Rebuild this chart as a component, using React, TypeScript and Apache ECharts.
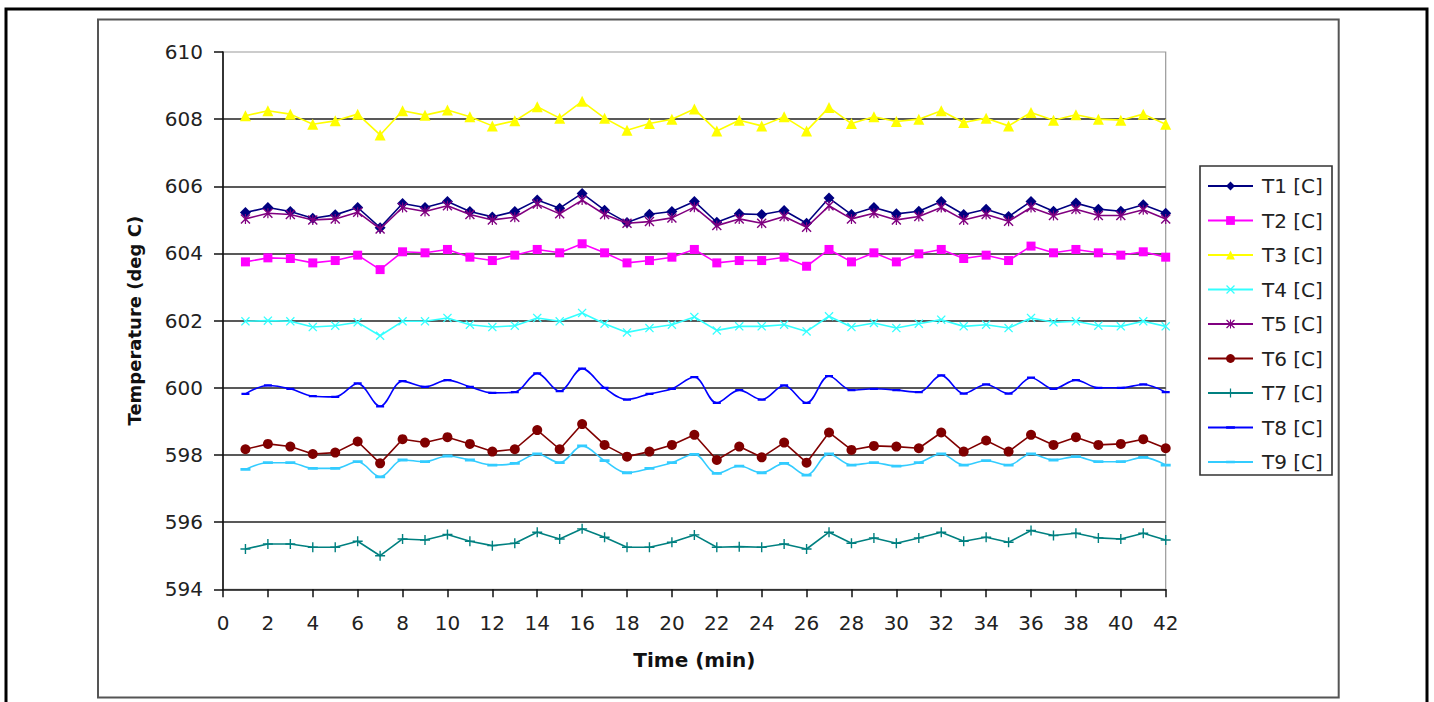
import React, { useEffect, useRef } from "react";
import * as echarts from "echarts";

const time = [1,2,3,4,5,6,7,8,9,10,11,12,13,14,15,16,17,18,19,20,21,22,23,24,25,26,27,28,29,30,31,32,33,34,35,36,37,38,39,40,41,42];

const t1 = [605.22,605.37,605.25,605.05,605.15,605.37,604.77,605.49,605.37,605.55,605.25,605.09,605.25,605.59,605.35,605.79,605.29,604.92,605.17,605.25,605.55,604.93,605.18,605.16,605.28,604.9,605.65,605.16,605.37,605.18,605.26,605.55,605.16,605.32,605.1,605.55,605.26,605.5,605.32,605.26,605.45,605.2];
const t2 = [603.75,603.87,603.85,603.72,603.79,603.95,603.52,604.05,604.02,604.12,603.89,603.79,603.95,604.12,604.02,604.29,604.02,603.72,603.79,603.89,604.12,603.72,603.79,603.79,603.89,603.62,604.12,603.75,604.02,603.75,603.99,604.12,603.85,603.95,603.79,604.22,604.02,604.12,604.02,603.95,604.05,603.89];
const t3 = [608.1,608.25,608.15,607.85,607.95,608.15,607.53,608.25,608.12,608.27,608.07,607.8,607.95,608.37,608.03,608.53,608.03,607.67,607.87,608.0,608.3,607.65,607.97,607.8,608.07,607.65,608.35,607.87,608.07,607.93,608.0,608.25,607.9,608.03,607.8,608.2,607.97,608.13,608.0,607.97,608.15,607.85];
const t4 = [601.98,602.0,601.98,601.81,601.85,601.95,601.55,601.98,601.98,602.08,601.88,601.81,601.85,602.08,601.98,602.23,601.91,601.65,601.78,601.88,602.11,601.71,601.83,601.83,601.88,601.68,602.13,601.81,601.93,601.78,601.91,602.03,601.83,601.88,601.78,602.08,601.95,601.98,601.85,601.83,601.98,601.83];
const t5 = [605.03,605.2,605.16,605.0,605.03,605.23,604.73,605.37,605.25,605.42,605.16,605.0,605.08,605.47,605.18,605.59,605.16,604.9,604.95,605.06,605.38,604.83,605.03,604.9,605.1,604.78,605.42,605.03,605.2,605.0,605.1,605.37,605.0,605.16,604.96,605.37,605.13,605.32,605.13,605.13,605.3,605.03];
const t6 = [598.17,598.33,598.25,598.03,598.07,598.4,597.75,598.47,598.37,598.53,598.33,598.1,598.17,598.74,598.17,598.92,598.3,597.95,598.1,598.3,598.6,597.85,598.25,597.93,598.37,597.77,598.67,598.15,598.27,598.25,598.2,598.67,598.1,598.43,598.1,598.6,598.3,598.53,598.3,598.33,598.47,598.2];
const t7 = [595.2,595.35,595.35,595.25,595.25,595.43,595.0,595.5,595.47,595.63,595.43,595.3,595.37,595.7,595.5,595.8,595.55,595.25,595.25,595.4,595.62,595.25,595.27,595.25,595.35,595.2,595.7,595.37,595.53,595.37,595.53,595.7,595.43,595.55,595.4,595.75,595.6,595.67,595.53,595.5,595.67,595.47];
const t8 = [599.82,600.07,599.97,599.75,599.73,600.13,599.45,600.2,600.03,600.23,600.03,599.85,599.87,600.43,599.9,600.57,600.0,599.65,599.82,599.97,600.32,599.55,599.93,599.65,600.07,599.55,600.35,599.93,599.97,599.93,599.87,600.37,599.83,600.1,599.83,600.3,599.97,600.23,600.0,600.0,600.1,599.87];
const t9 = [597.57,597.77,597.77,597.6,597.6,597.8,597.35,597.85,597.8,597.97,597.85,597.7,597.75,598.03,597.77,598.27,597.83,597.47,597.6,597.77,598.02,597.45,597.67,597.47,597.75,597.4,598.03,597.7,597.77,597.67,597.77,598.03,597.7,597.83,597.7,598.03,597.85,597.95,597.8,597.8,597.93,597.7];

const seriesNames = ["T1 [C]","T2 [C]","T3 [C]","T4 [C]","T5 [C]","T6 [C]","T7 [C]","T8 [C]","T9 [C]"];
const seriesValues = [t1, t2, t3, t4, t5, t6, t7, t8, t9];
const seriesColors = ["#000080","#FF00FF","#FFFF00","#33FFFF","#800080","#800000","#008080","#0000FF","#33CCFF"];

const X_PATH = "path://M0,1L1,0L5,4L9,0L10,1L6,5L10,9L9,10L5,6L1,10L0,9L4,5Z";
const AST_PATH = "path://M0,1L1,0L5,4L9,0L10,1L6,5L10,9L9,10L5,6L1,10L0,9L4,5Z M4.4,0H5.6V10H4.4Z";
const PLUS_PATH = "path://M4.3,0H5.7V4.3H10V5.7H5.7V10H4.3V5.7H0V4.3H4.3Z";
const DASH_PATH = "path://M0,0H0.01V0.01H0Z M0,3.6H10V6.4H0Z M9.99,9.99H10V10H9.99Z";

const symbols: any[] = ["diamond", "rect", "triangle", X_PATH, AST_PATH, "circle", PLUS_PATH, DASH_PATH, DASH_PATH];
const symbolSizes: any[] = [11, 9, 11, 9, 10, 10, 10, 8, 10];
const smoothFlags: any[] = [false, false, false, false, false, false, false, 0.35, 0.35];

const FONT = "'DejaVu Sans', Arial, sans-serif";

export default function App() {
  const ref = useRef<HTMLDivElement>(null);
  useEffect(() => {
    if (!ref.current) return;
    const chart = echarts.init(ref.current, null, { renderer: "svg" });
    const series = seriesNames.map((name, i) => ({
      name,
      type: "line",
      data: time.map((t, k) => [t, seriesValues[i][k]]),
      symbol: symbols[i],
      symbolSize: symbolSizes[i],
      smooth: smoothFlags[i],
      showSymbol: true,
      lineStyle: { color: seriesColors[i], width: 1.6 },
      itemStyle: { color: seriesColors[i] },
      z: 3 + i,
    }));
    chart.setOption({
      animation: false,
      backgroundColor: "#ffffff",
      textStyle: { fontFamily: FONT },
      grid: {
        left: 223,
        top: 52,
        right: 1434 - 1165.7,
        bottom: 702 - 589.3,
        show: true,
        borderColor: "#999999",
        borderWidth: 1.2,
        backgroundColor: "transparent",
      },
      xAxis: {
        type: "value",
        min: 0,
        max: 42,
        interval: 2,
        name: "Time (min)",
        nameLocation: "middle",
        nameGap: 61,
        nameTextStyle: { fontSize: 20, fontWeight: "bold", color: "#111", fontFamily: FONT },
        axisLine: { show: true, lineStyle: { color: "#111", width: 1.6 } },
        axisTick: { show: true, inside: false, length: 8, lineStyle: { color: "#111", width: 1.5 } },
        axisLabel: { fontSize: 20, color: "#222", margin: 24, fontFamily: FONT },
        splitLine: { show: false },
      },
      yAxis: {
        type: "value",
        min: 594,
        max: 610,
        interval: 2,
        name: "Temperature (deg C)",
        nameLocation: "middle",
        nameGap: 80,
        nameRotate: 90,
        nameTextStyle: { fontSize: 18, fontWeight: "bold", color: "#111", fontFamily: FONT },
        axisLine: { show: true, lineStyle: { color: "#111", width: 1.6 } },
        axisTick: { show: true, inside: false, length: 9, lineStyle: { color: "#111", width: 1.5 } },
        axisLabel: { fontSize: 20, color: "#222", margin: 20, fontFamily: FONT },
        splitLine: { show: true, showMinLine: false, showMaxLine: false, lineStyle: { color: "#222", width: 1.6 } },
      },
      legend: {
        orient: "vertical",
        left: 1207,
        top: 176,
        padding: 0,
        itemWidth: 45,
        itemHeight: 11,
        itemGap: 14.5,
        textStyle: { fontSize: 20, color: "#222", fontFamily: FONT, lineHeight: 20, padding: [0, 0, 0, 4] },
        data: seriesNames,
      },
      graphic: [
        {
          type: "rect",
          shape: { x: 6, y: 9, width: 1421, height: 720 },
          style: { fill: "none", stroke: "#000", lineWidth: 3 },
          silent: true,
        },
        {
          type: "rect",
          shape: { x: 98, y: 19.5, width: 1240.7, height: 678 },
          style: { fill: "none", stroke: "#555", lineWidth: 2 },
          silent: true,
        },
        {
          type: "rect",
          shape: { x: 1200, y: 166, width: 132, height: 309 },
          style: { fill: "none", stroke: "#333", lineWidth: 1.6 },
          silent: true,
        },
      ],
      series,
    });
    return () => chart.dispose();
  }, []);
  return (
    <div
      ref={ref}
      style={{ position: "fixed", left: 0, top: 0, width: "1434px", height: "702px", background: "#fff" }}
    />
  );
}
